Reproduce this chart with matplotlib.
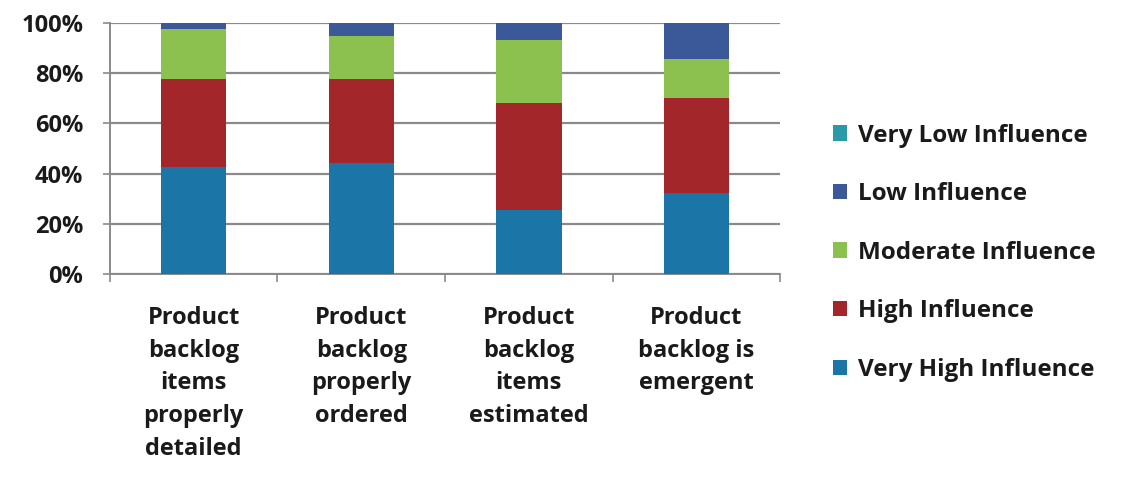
import matplotlib
matplotlib.use("Agg")
import matplotlib.pyplot as plt
import numpy as np

categories = ["Product\nbacklog\nitems\nproperly\ndetailed",
              "Product\nbacklog\nproperly\nordered",
              "Product\nbacklog\nitems\nestimated",
              "Product\nbacklog is\nemergent"]
very_high = [42.5, 44.4, 25.6, 32.4]
high = [35.0, 33.3, 42.4, 37.6]
moderate = [20.0, 17.0, 25.1, 15.5]
low = [2.5, 5.3, 6.9, 14.5]
very_low = [0.0, 0.0, 0.0, 0.0]
series_names = ["Very High Influence", "High Influence", "Moderate Influence",
                "Low Influence", "Very Low Influence"]
colors = ["#1B75A6", "#A3262B", "#8CC04F", "#3B5998", "#2A9AA8"]
yticks = [0, 20, 40, 60, 80, 100]

plt.rcParams['font.family'] = ['Open Sans', 'DejaVu Sans']
fig = plt.figure(figsize=(11.21, 4.88), dpi=100)
ax = fig.add_axes([0.098, 0.438, 0.598, 0.5155])

x = np.arange(len(categories))
bottom = np.zeros(len(categories))
handles = []
for vals, name, c in zip([very_high, high, moderate, low, very_low], series_names, colors):
    b = ax.bar(x, vals, 0.39, bottom=bottom, color=c, label=name, zorder=3)
    handles.append(b)
    bottom += np.array(vals)

ax.set_xlim(-0.5, len(categories) - 0.5)
ax.set_ylim(0, 100)
ax.set_yticks(yticks)
ax.set_yticklabels([f"{v}%" for v in yticks], fontsize=17, fontweight='bold', color='#1a1a1a')
ax.yaxis.grid(True, color='#8a8a8a', linewidth=1.6, zorder=0)
ax.set_axisbelow(True)
ax.tick_params(axis='y', length=5, width=1.2, color='#8a8a8a', pad=14)

ax.set_xticks(x)
ax.set_xticklabels(categories, fontsize=17, fontweight='bold', color='#1a1a1a', linespacing=1.48, va='top')
ax.set_xticks(np.arange(-0.5, len(categories)), minor=True)
ax.tick_params(axis='x', which='major', length=0, pad=23)
ax.tick_params(axis='x', which='minor', length=6, width=1.2, color='#8a8a8a')

for s in ['top', 'right']:
    ax.spines[s].set_visible(False)
for s in ['left', 'bottom']:
    ax.spines[s].set_color('#8a8a8a')
    ax.spines[s].set_linewidth(1.4)

leg = fig.legend(handles[::-1], series_names[::-1], loc='center left',
                 bbox_to_anchor=(0.724, 0.482), frameon=False,
                 prop={'size': 17.5, 'weight': 'bold'},
                 handlelength=0.55, handleheight=0.6, handletextpad=0.45,
                 labelspacing=1.42)
for t in leg.get_texts():
    t.set_color('#1a1a1a')

fig.savefig("out.png", dpi=100, facecolor='white')
